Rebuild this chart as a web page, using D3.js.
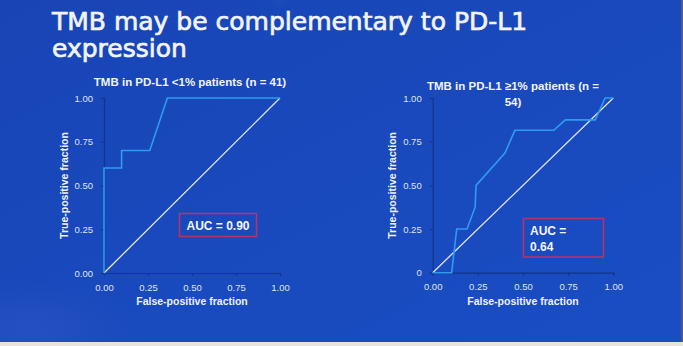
<!DOCTYPE html>
<html><head><meta charset="utf-8">
<script src="https://cdn.jsdelivr.net/npm/d3@7"></script>
<style>
html,body{margin:0;padding:0;background:#fff;overflow:hidden;}
svg{display:block;}
</style></head>
<body>
<script>
// ---- data ----
const titleLines = ["TMB may be complementary to PD-L1", "expression"];
const leftTitle = ["TMB in PD-L1 <1% patients (n = 41)"];
const rightTitle = ["TMB in PD-L1 \u22651% patients (n =", "54)"];
const leftFpr = [0, 0, 0.1, 0.1, 0.26, 0.36, 1];
const leftTpr = [0, 0.6, 0.6, 0.7, 0.7, 1, 1];
const rightFpr = [0, 0.105, 0.133, 0.19, 0.235, 0.24, 0.40, 0.455, 0.67, 0.735, 0.90, 0.955, 1];
const rightTpr = [0, 0, 0.25, 0.25, 0.375, 0.5, 0.685, 0.815, 0.815, 0.875, 0.875, 1, 1];
const tickValues = [0, 0.25, 0.5, 0.75, 1];
const xTickLabels = ["0.00", "0.25", "0.50", "0.75", "1.00"];
const leftYTickLabels = ["0.00", "0.25", "0.50", "0.75", "1.00"];
const rightYTickLabels = ["0", "0.25", "0.50", "0.75", "1.00"];
const leftAuc = ["AUC = 0.90"];
const rightAuc = ["AUC =", "0.64"];
const xLabel = "False-positive fraction";
const yLabel = "True-positive fraction";

const W = 683, H = 346;
const svg = d3.select("body").append("svg").attr("width", W).attr("height", H);
const defs = svg.append("defs");

// background
const lg = defs.append("linearGradient").attr("id", "bg").attr("x1", 0).attr("y1", 0).attr("x2", 1).attr("y2", 1);
lg.append("stop").attr("offset", "0%").attr("stop-color", "#1845b6");
lg.append("stop").attr("offset", "50%").attr("stop-color", "#1949bd");
lg.append("stop").attr("offset", "100%").attr("stop-color", "#1a4dc3");
svg.append("rect").attr("width", W).attr("height", 342).attr("fill", "url(#bg)");
const streak = defs.append("radialGradient").attr("id", "streak").attr("cx", 0.5).attr("cy", 0.0).attr("r", 0.5);
streak.append("stop").attr("offset", "0%").attr("stop-color", "#7a98e6").attr("stop-opacity", 0.6);
streak.append("stop").attr("offset", "100%").attr("stop-color", "#7a98e6").attr("stop-opacity", 0);
svg.append("ellipse").attr("cx", 278).attr("cy", 10).attr("rx", 24).attr("ry", 110).attr("fill", "url(#streak)");
const bl = defs.append("radialGradient").attr("id", "bl").attr("cx", 0.5).attr("cy", 0.5).attr("r", 0.5);
bl.append("stop").attr("offset", "0%").attr("stop-color", "#3a5ccc").attr("stop-opacity", 0.35);
bl.append("stop").attr("offset", "100%").attr("stop-color", "#3a5ccc").attr("stop-opacity", 0);
svg.append("ellipse").attr("cx", 30).attr("cy", 330).attr("rx", 110).attr("ry", 50).attr("fill", "url(#bl)");
svg.append("rect").attr("x", 0).attr("y", 342).attr("width", W).attr("height", 4).attr("fill", "#e8e4dc");
svg.append("rect").attr("x", 681).attr("y", 0).attr("width", 2).attr("height", 342).attr("fill", "#4a5a8a");

// title
svg.append("g").selectAll("text").data(titleLines).join("text")
  .attr("x", 52).attr("y", (d, i) => 30 + i * 27)
  .attr("font-family", "DejaVu Sans, Verdana, sans-serif")
  .attr("font-size", 25).attr("fill", "#f2f4fa")
  .attr("stroke", "#f2f4fa").attr("stroke-width", 0.7)
  .text(d => d);

function chart(cfg) {
  const x = d3.scaleLinear().domain([0, 1]).range([cfg.x0, cfg.x1]);
  const y = d3.scaleLinear().domain([0, 1]).range([cfg.y0, cfg.y1]);
  const g = svg.append("g");

  // axes
  const xa = g.append("g").attr("transform", `translate(0,${cfg.y0})`)
    .call(d3.axisBottom(x).tickValues(tickValues).tickFormat((d, i) => xTickLabels[i]).tickSize(3).tickPadding(8));
  const ya = g.append("g").attr("transform", `translate(${cfg.x0},0)`)
    .call(d3.axisLeft(y).tickValues(tickValues).tickFormat((d, i) => cfg.yLabels[i]).tickSize(3).tickPadding(8));
  [xa, ya].forEach(a => {
    a.select(".domain").attr("stroke", "#123585").attr("stroke-width", 1.2);
    a.selectAll(".tick line").attr("stroke", "#123585");
    a.selectAll(".tick text").attr("fill", "#dfe5f2").attr("font-family", "Liberation Sans, Arial, sans-serif").attr("font-size", 9.5);
  });

  // diagonal
  g.append("path").datum([0, 1])
    .attr("d", d3.line().x(d => x(d)).y(d => y(d)))
    .attr("stroke", "#dfe6f2").attr("stroke-width", 1.3).attr("fill", "none");

  // ROC curve
  const pts = cfg.fpr.map((f, i) => [f, cfg.tpr[i]]);
  g.append("path").datum(pts)
    .attr("d", d3.line().x(d => x(d[0])).y(d => y(d[1])))
    .attr("stroke", "#2e9cf0").attr("stroke-width", 1.6).attr("fill", "none");

  // subtitle
  g.append("g").selectAll("text").data(cfg.title).join("text")
    .attr("x", cfg.tx).attr("y", (d, i) => cfg.ty + i * 16)
    .attr("text-anchor", "middle")
    .attr("font-family", "Liberation Sans, Arial, sans-serif").attr("font-weight", "bold")
    .attr("font-size", 11.5).attr("fill", "#f2f4fa").text(d => d);

  // axis labels
  g.append("text").attr("x", (cfg.x0 + cfg.x1) / 2).attr("y", 305)
    .attr("text-anchor", "middle")
    .attr("font-family", "Liberation Sans, Arial, sans-serif").attr("font-weight", "bold")
    .attr("font-size", 10.5).attr("fill", "#eef1f8").text(xLabel);
  g.append("text").attr("transform", `translate(${cfg.ylx},${(cfg.y0 + cfg.y1) / 2}) rotate(-90)`)
    .attr("text-anchor", "middle")
    .attr("font-family", "Liberation Sans, Arial, sans-serif").attr("font-weight", "bold")
    .attr("font-size", 10.5).attr("fill", "#eef1f8").text(yLabel);

  // AUC box
  g.append("rect").attr("x", cfg.box[0]).attr("y", cfg.box[1]).attr("width", cfg.box[2]).attr("height", cfg.box[3])
    .attr("fill", "none").attr("stroke", "#b3336a").attr("stroke-width", 1.6);
  g.append("g").selectAll("text").data(cfg.auc).join("text")
    .attr("x", cfg.aucX).attr("y", (d, i) => cfg.aucY + i * 16)
    .attr("text-anchor", cfg.aucAnchor)
    .attr("font-family", "Liberation Sans, Arial, sans-serif").attr("font-weight", "bold")
    .attr("font-size", 12).attr("fill", "#f4f6fb").text(d => d);
}

chart({x0: 104, x1: 280, y0: 273, y1: 98, fpr: leftFpr, tpr: leftTpr, yLabels: leftYTickLabels,
  title: leftTitle, tx: 190, ty: 86, ylx: 68,
  box: [179.5, 213.5, 77, 23], auc: leftAuc, aucX: 218, aucY: 229.5, aucAnchor: "middle"});
chart({x0: 432.7, x1: 613.3, y0: 272.7, y1: 98, fpr: rightFpr, tpr: rightTpr, yLabels: rightYTickLabels,
  title: rightTitle, tx: 513, ty: 90, ylx: 396,
  box: [523.5, 218.5, 80, 38.5], auc: rightAuc, aucX: 530, aucY: 234.5, aucAnchor: "start"});
</script>
</body></html>
